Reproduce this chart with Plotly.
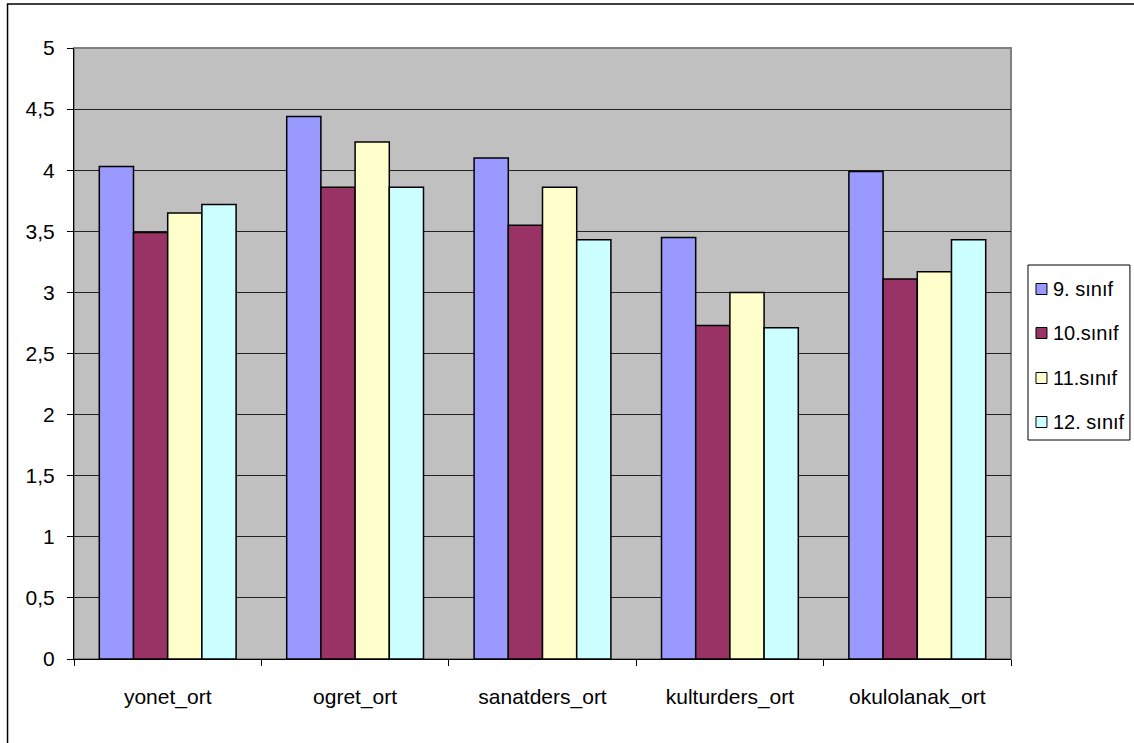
import plotly.graph_objects as go

categories = ["yonet_ort", "ogret_ort", "sanatders_ort", "kulturders_ort", "okulolanak_ort"]
series_names = ["9. sınıf", "10.sınıf", "11.sınıf", "12. sınıf"]
s9 = [4.03, 4.44, 4.10, 3.45, 3.99]
s10 = [3.49, 3.86, 3.55, 2.73, 3.11]
s11 = [3.65, 4.23, 3.86, 3.00, 3.17]
s12 = [3.72, 3.86, 3.43, 2.71, 3.43]
y_ticks = [0, 0.5, 1, 1.5, 2, 2.5, 3, 3.5, 4, 4.5, 5]

colors = ["#9999FF", "#993366", "#FFFFCC", "#CCFFFF"]
series = [s9, s10, s11, s12]

W, H = 1134, 743
L, R, T, B = 73.5, 1011, 48, 659
FONT = "Arial, Liberation Sans, sans-serif"

fig = go.Figure()
for i, (name, vals) in enumerate(zip(series_names, series)):
    fig.add_trace(go.Bar(
        x=categories, y=vals, name=name,
        marker=dict(color=colors[i], line=dict(color="black", width=1.5)),
    ))

pw, ph = R - L, B - T
def px_x(v):
    return (v - L) / pw
def px_y(v):
    return (B - v) / ph

shapes = [
    dict(type="rect", xref="paper", yref="paper", x0=0, x1=1, y0=0, y1=1,
         line=dict(color="#808080", width=2), fillcolor="rgba(0,0,0,0)", layer="below"),
    dict(type="rect", xref="paper", yref="paper",
         x0=px_x(7), x1=px_x(1150), y0=px_y(760), y1=px_y(4),
         line=dict(color="black", width=1.5), fillcolor="rgba(0,0,0,0)"),
    # legend box
    dict(type="rect", xref="paper", yref="paper",
         x0=px_x(1028), x1=px_x(1130), y0=px_y(440), y1=px_y(265),
         line=dict(color="black", width=1), fillcolor="white"),
]
annotations = []
item_y = [289, 333, 378, 422]
for i, name in enumerate(series_names):
    yc = item_y[i]
    shapes.append(dict(type="rect", xref="paper", yref="paper",
                       x0=px_x(1036), x1=px_x(1047), y0=px_y(yc + 5.5), y1=px_y(yc - 5.5),
                       line=dict(color="black", width=1), fillcolor=colors[i]))
    annotations.append(dict(xref="paper", yref="paper", x=px_x(1051), y=px_y(yc),
                            xanchor="left", yanchor="middle", showarrow=False,
                            text=name, font=dict(family=FONT, size=20, color="black")))

fig.update_layout(
    width=W, height=H,
    margin=dict(l=L, r=W - R, t=T, b=H - B, pad=0),
    paper_bgcolor="white",
    plot_bgcolor="#C0C0C0",
    barmode="group", bargap=0.27, bargroupgap=0,
    separators=",.",
    font=dict(family=FONT, size=21, color="black"),
    showlegend=False,
    xaxis=dict(
        type="category", showline=True, linecolor="black", linewidth=1,
        ticks="outside", tickson="boundaries", ticklen=6, tickcolor="black",
        showgrid=False, ticklabelstandoff=19,
    ),
    yaxis=dict(
        range=[0, 5], tickvals=y_ticks, showline=True, linecolor="black", linewidth=1,
        ticks="outside", ticklen=6, tickcolor="black",
        showgrid=True, gridcolor="#222222", gridwidth=1, zeroline=False,
        ticklabelstandoff=8,
    ),
    shapes=shapes,
    annotations=annotations,
)

fig.write_html("out.html", config={"displayModeBar": False},
               post_script="document.body.style.margin='0px';document.body.style.overflow='hidden';")
